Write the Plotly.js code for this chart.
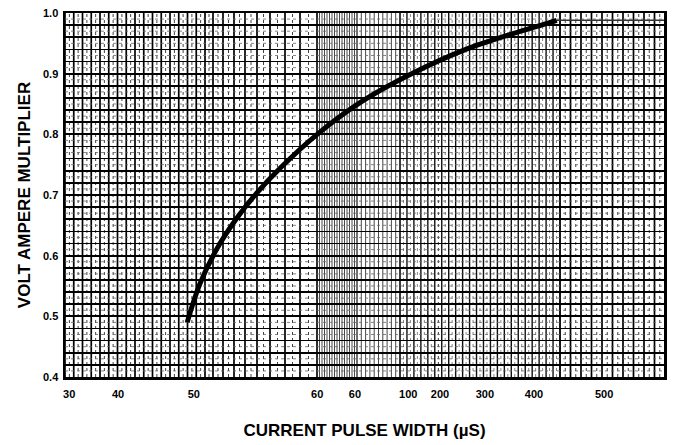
<!DOCTYPE html>
<html>
<head>
<meta charset="utf-8">
<script src="https://cdn.plot.ly/plotly-3.0.1.min.js"></script>
<style>html,body{margin:0;padding:0;background:#fff;}#chart{width:673px;height:445px;}</style>
</head>
<body>
<div id="chart"></div>
<script>
// ---- data (x in the chart's own non-uniform axis units, 0..100 across the grid) ----
const xTickLabels = ['30', '40', '50', '60', '60', '100', '200', '300', '400', '500'];
const xTickPos    = [0.7, 8.85, 21.5, 42.1, 48.4, 57.3, 62.6, 70.1, 78.3, 90.0];
const yTickVals   = [0.4, 0.5, 0.6, 0.7, 0.8, 0.9, 1.0];
const yTickLabels = ['0.4', '0.5', '0.6', '0.7', '0.8', '0.9', '1.0'];

const curveX = [20.4, 22.5, 25.4, 28.7, 32.0, 35.9, 42.1, 49.7, 58.1, 66.4, 74.8, 80.5, 82.1];
const curveY = [0.49, 0.553, 0.612, 0.662, 0.703, 0.744, 0.800, 0.855, 0.901, 0.938, 0.966, 0.983, 0.988];
const flatX  = [82.1, 100];
const flatY  = [0.988, 0.988];

// ---- printed graph-paper grid (styling only) ----
const W = 599;              // grid width in px
const px = p => (p - 65) / W * 100;
function run(a, b, n) { const o = []; for (let i = 0; i <= n; i++) o.push(a + (b - a) * i / n); return o; }
const heavy = [].concat(run(65, 205, 16), [213, 223, 234, 245, 257, 270, 285, 300, 317], run(560, 665, 10));
const dense = [].concat(run(317, 357, 16), run(357, 400, 10));
const medium = run(400, 560, 23);
const shapes = [];
function vline(p, w, c, dash) {
  shapes.push({type: 'line', xref: 'x', yref: 'paper', x0: px(p), x1: px(p), y0: 0, y1: 1,
    line: {color: c, width: w, dash: dash || 'solid'}, layer: 'below'});
}
heavy.forEach(p => vline(p, 1.7, '#000'));
dense.forEach(p => vline(p, 0.9, '#333'));
medium.forEach(p => vline(p, 1.4, '#111'));
// dotted half-lines
for (let i = 0; i < heavy.length - 1; i++) {
  if (heavy[i + 1] - heavy[i] > 6) vline((heavy[i] + heavy[i + 1]) / 2, 1, '#444', 'dot');
}
for (let i = 0; i < medium.length - 1; i++) vline((medium[i] + medium[i + 1]) / 2, 0.8, '#666', 'dot');
// dotted 0.01 horizontals
for (let k = 0; k < 30; k++) {
  const v = 0.41 + k * 0.02;
  shapes.push({type: 'line', xref: 'paper', yref: 'y', x0: 0, x1: 1, y0: v, y1: v,
    line: {color: '#666', width: 0.8, dash: 'dot'}, layer: 'below'});
}

const traces = [
  {x: curveX, y: curveY, mode: 'lines', line: {color: '#000', width: 5, shape: 'spline', smoothing: 1},
   hoverinfo: 'skip', showlegend: false},
  {x: flatX, y: flatY, mode: 'lines', line: {color: '#333', width: 1.6},
   hoverinfo: 'skip', showlegend: false}
];

const tickFont = {family: 'Liberation Sans, Arial, sans-serif', size: 11, color: '#000', weight: 'bold'};
const titleFont = {family: 'Liberation Sans, Arial, sans-serif', size: 17, color: '#000', weight: 'bold'};
const layout = {
  width: 673, height: 445,
  margin: {l: 65, r: 9, t: 13, b: 68},
  paper_bgcolor: '#fff', plot_bgcolor: '#fff',
  showlegend: false,
  shapes: shapes,
  xaxis: {
    type: 'linear', range: [0, 100], tickmode: 'array', tickvals: xTickPos, ticktext: xTickLabels,
    showgrid: false, zeroline: false, ticks: '', tickfont: tickFont, ticklabelstandoff: 5,
    showline: true, linecolor: '#000', linewidth: 2.5, mirror: true,
    title: {text: 'CURRENT PULSE WIDTH (µS)', standoff: 26, font: titleFont}
  },
  yaxis: {
    range: [0.4, 1.0], tickmode: 'array', tickvals: yTickVals, ticktext: yTickLabels,
    showgrid: true, gridcolor: '#000', gridwidth: 2, zeroline: false, ticks: '',
    minor: {dtick: 0.02, tick0: 0.4, showgrid: true, gridcolor: '#000', gridwidth: 1.6},
    tickfont: tickFont, ticklabelstandoff: 2,
    showline: true, linecolor: '#000', linewidth: 2.5, mirror: true,
    title: {text: 'VOLT AMPERE MULTIPLIER', standoff: 8, font: titleFont}
  }
};
Plotly.newPlot('chart', traces, layout, {displayModeBar: false, staticPlot: true});
</script>
</body>
</html>
